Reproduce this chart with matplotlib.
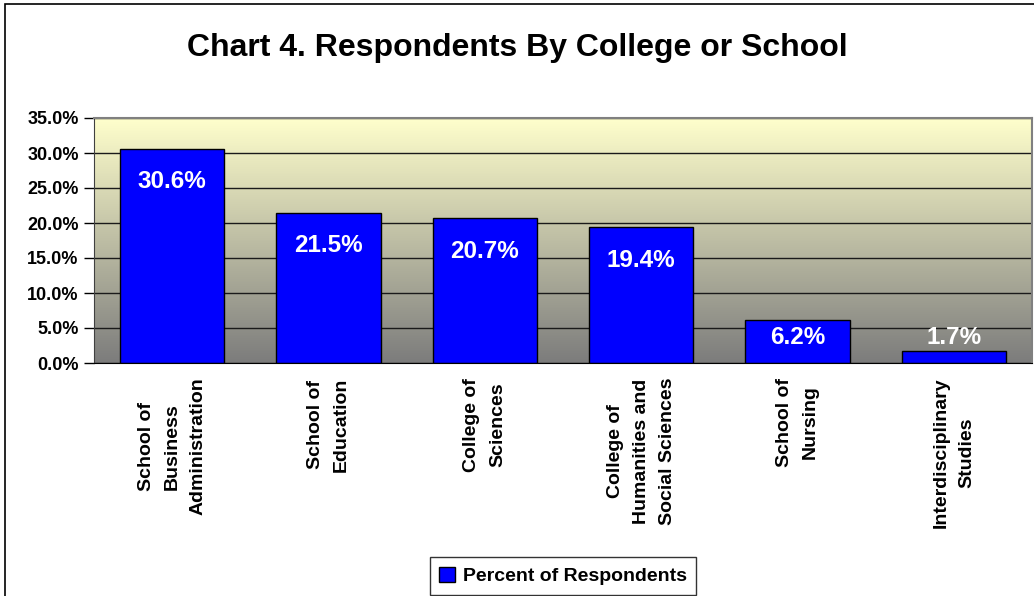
import numpy as np
import matplotlib
matplotlib.use("Agg")
import matplotlib.pyplot as plt
from matplotlib.colors import LinearSegmentedColormap
from matplotlib.patches import Rectangle
from matplotlib.ticker import FuncFormatter, MultipleLocator

# Respondents by college / school (percent)
colleges = [
    "School of\nBusiness\nAdministration",
    "School of\nEducation",
    "College of\nSciences",
    "College of\nHumanities and\nSocial Sciences",
    "School of\nNursing",
    "Interdisciplinary\nStudies",
]
percents = [30.6, 21.5, 20.7, 19.4, 6.2, 1.7]
series_name = "Percent of Respondents"
chart_title = "Chart 4. Respondents By College or School"


def main():
    plt.rcParams["font.family"] = ["Liberation Sans", "DejaVu Sans"]
    plt.rcParams["font.weight"] = "bold"

    fig = plt.figure(figsize=(10.34, 5.96), dpi=100)
    W, H = 1034, 596
    ax = fig.add_axes([94 / W, 1 - 363 / H, 938 / W, 245 / H])

    # outer chart frame
    fig.patches.append(Rectangle((5 / W, -0.1), 1.2, 1 - 4 / H + 0.1,
                                 transform=fig.transFigure, fill=False,
                                 edgecolor="black", linewidth=1.2))

    # plot area gradient, pale yellow at top fading to gray
    cmap = LinearSegmentedColormap.from_list("bg", ["#7C7C7C", "#FFFFCC"])
    grad = np.linspace(0, 1, 256).reshape(-1, 1)
    ax.imshow(grad, cmap=cmap, aspect="auto", origin="lower",
              extent=[0, 1, 0, 1], transform=ax.transAxes, zorder=0)

    x = np.arange(len(colleges))
    ax.bar(x, percents, width=0.667, color="#0000FF", edgecolor="black",
           linewidth=1, zorder=2)

    ax.set_xlim(-0.5, len(colleges) - 0.5)
    ax.set_ylim(0, 35)
    ax.yaxis.set_major_locator(MultipleLocator(5))
    ax.yaxis.set_major_formatter(FuncFormatter(lambda v, p: f"{v:.1f}%"))
    ax.yaxis.grid(True, color="#1A1A1A", linewidth=1)
    for gl in ax.get_ygridlines():
        gl.set_zorder(1)

    ax.tick_params(axis="y", direction="out", length=7, width=1,
                   labelsize=13, pad=4)
    ax.tick_params(axis="x", length=0)
    ax.set_xticks(x)
    ax.set_xticklabels([])

    for side in ["top", "right"]:
        ax.spines[side].set_color("#808080")
        ax.spines[side].set_linewidth(1.5)
    ax.spines["left"].set_color("#404040")
    ax.spines["bottom"].set_color("black")

    # value labels inside bar tops
    for xi, v in zip(x, percents):
        yl = max(v - 4.7, 3.6)
        ax.text(xi, yl, f"{v:.1f}%", color="white", fontsize=17.5,
                fontweight="bold", ha="center", va="center", zorder=3)

    # category labels, rotated
    for xi, name in zip(x, colleges):
        ax.text(xi, -0.06, name, transform=ax.get_xaxis_transform(),
                rotation=90, ha="center", va="top", multialignment="center",
                fontsize=14, fontweight="bold", linespacing=1.7)

    fig.text(0.5, 1 - 48 / H, chart_title, ha="center", va="center",
             fontsize=23, fontweight="bold")

    leg = ax.legend([Rectangle((0, 0), 1, 1, facecolor="#0000FF",
                               edgecolor="black")], [series_name],
                    loc="center", bbox_to_anchor=(0.5, (363 - 576) / 245),
                    frameon=True, fancybox=False, edgecolor="black",
                    fontsize=14, handlelength=0.8, handleheight=0.8,
                    handletextpad=0.4, borderpad=0.5)
    leg.get_frame().set_linewidth(1)

    fig.savefig("out.png", dpi=100, facecolor="white")


if __name__ == "__main__":
    main()
